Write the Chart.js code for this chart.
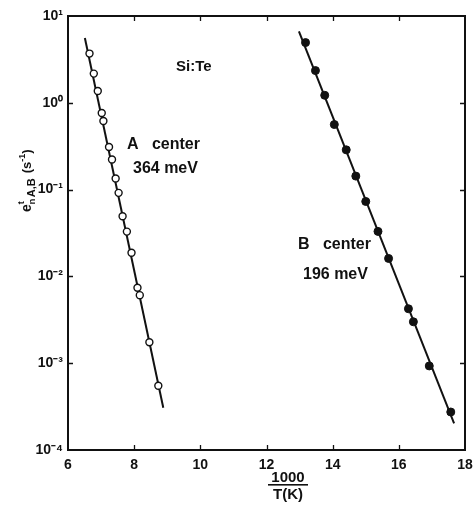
<!DOCTYPE html>
<html>
<head>
<meta charset="utf-8">
<script src="https://cdn.jsdelivr.net/npm/chart.js@4.4.1/dist/chart.umd.min.js"></script>
<style>
  html, body { margin: 0; padding: 0; background: #fff; }
  #box { width: 473px; height: 516px; }
</style>
</head>
<body>
<div id="box"><canvas id="chart"></canvas></div>
<script>
// Si:Te emission rates vs 1000/T, A and B centers
const xA = [6.65, 6.78, 6.90, 7.02, 7.07, 7.24, 7.33, 7.44, 7.53, 7.65, 7.78, 7.92, 8.10, 8.17, 8.46, 8.73];
const rateA = [3.69, 2.17, 1.37, 0.764, 0.618, 0.310, 0.222, 0.134, 0.0917, 0.0494, 0.0328, 0.0187, 0.0074, 0.00608, 0.00174, 0.00055];

const xB = [13.18, 13.48, 13.76, 14.05, 14.41, 14.70, 15.00, 15.37, 15.69, 16.29, 16.44, 16.92, 17.57];
const rateB = [4.94, 2.35, 1.22, 0.562, 0.287, 0.143, 0.073, 0.033, 0.0161, 0.00424, 0.0030, 0.00093, 0.000274];

// fitted Arrhenius lines (end points)
const fitAx = [6.51, 8.88];
const fitAy = [5.58, 0.000307];
const fitBx = [12.98, 17.67];
const fitBy = [6.67, 0.000203];

// axis ticks
const xTicks = [6, 8, 10, 12, 14, 16, 18];
const yExponents = [-4, -3, -2, -1, 0, 1];

const FONT = "'Liberation Sans', Arial, sans-serif";
const INK = '#111';

const sup = { '-': '\u207B', '0': '\u2070', '1': '\u00B9', '2': '\u00B2', '3': '\u00B3', '4': '\u2074' };
const decadeLabel = e => '10' + String(e).split('').map(c => sup[c]).join('');

const pairs = (xs, ys) => xs.map((x, i) => ({ x: x, y: ys[i] }));

// frame, inward ticks, titles and notes
const decorations = {
  id: 'decorations',
  afterDraw(chart) {
    const { ctx, chartArea: a, scales: { x, y } } = chart;
    ctx.save();
    ctx.strokeStyle = INK;
    ctx.lineWidth = 2;
    ctx.strokeRect(a.left, a.top, a.right - a.left, a.bottom - a.top);

    ctx.lineWidth = 1.3;
    ctx.beginPath();
    xTicks.slice(1, -1).forEach(v => {
      const px = Math.round(x.getPixelForValue(v)) + 0.5;
      ctx.moveTo(px, a.bottom); ctx.lineTo(px, a.bottom - 5);
      ctx.moveTo(px, a.top); ctx.lineTo(px, a.top + 5);
    });
    yExponents.slice(1, -1).forEach(e => {
      const py = Math.round(y.getPixelForValue(Math.pow(10, e))) + 0.5;
      ctx.moveTo(a.left, py); ctx.lineTo(a.left + 5, py);
      ctx.moveTo(a.right, py); ctx.lineTo(a.right - 5, py);
    });
    ctx.stroke();

    ctx.fillStyle = INK;

    // x title as a fraction 1000 / T(K)
    const cx = 288;
    ctx.textAlign = 'center';
    ctx.textBaseline = 'alphabetic';
    ctx.font = 'bold 15px ' + FONT;
    ctx.fillText('1000', cx, 482);
    ctx.fillRect(cx - 20, 484, 40, 1.6);
    ctx.fillText('T(K)', cx, 499);

    // y title: e^t_n A,B (s^-1), rotated
    ctx.save();
    ctx.translate(31, 212);
    ctx.rotate(-Math.PI / 2);
    ctx.textAlign = 'left';
    let cur = 0;
    const put = (txt, size, dy) => {
      ctx.font = 'bold ' + size + 'px ' + FONT;
      ctx.fillText(txt, cur, dy);
      return ctx.measureText(txt).width;
    };
    cur += put('e', 14, 0);
    const tw = put('t', 9, -7);
    put('n', 9, 4);
    cur += tw + 4;
    cur += put('A,B', 11, 4) + 5;
    cur += put('(s', 13, 0);
    cur += put('-1', 9, -6);
    put(')', 13, 0);
    ctx.restore();

    // annotations
    ctx.textAlign = 'left';
    ctx.font = 'bold 15px ' + FONT;
    ctx.fillText('Si:Te', 176, 71);
    ctx.font = 'bold 16px ' + FONT;
    ctx.fillText('A   center', 127, 149);
    ctx.fillText('364 meV', 133, 173);
    ctx.fillText('B   center', 298, 249);
    ctx.fillText('196 meV', 303, 279);
    ctx.restore();
  }
};

const chartData = {
  datasets: [
    {
      label: 'A center',
      data: pairs(xA, rateA),
      pointStyle: 'circle',
      pointRadius: 3.5,
      pointBackgroundColor: '#fff',
      pointBorderColor: INK,
      pointBorderWidth: 1.4,
      showLine: false,
      order: 1
    },
    {
      label: 'B center',
      data: pairs(xB, rateB),
      pointStyle: 'circle',
      pointRadius: 4,
      pointBackgroundColor: INK,
      pointBorderColor: INK,
      pointBorderWidth: 1,
      showLine: false,
      order: 1
    },
    {
      label: 'A fit',
      data: pairs(fitAx, fitAy),
      showLine: true,
      borderColor: INK,
      borderWidth: 2,
      pointRadius: 0,
      order: 2
    },
    {
      label: 'B fit',
      data: pairs(fitBx, fitBy),
      showLine: true,
      borderColor: INK,
      borderWidth: 2,
      pointRadius: 0,
      order: 2
    }
  ]
};

const chartOptions = {
  responsive: true,
  maintainAspectRatio: false,
  animation: false,
  layout: { padding: { left: 0, right: 8, top: 16, bottom: 0 } },
  plugins: {
    legend: { display: false },
    tooltip: { enabled: false }
  },
  scales: {
    x: {
      type: 'linear',
      min: 6,
      max: 18,
      afterBuildTicks: scale => { scale.ticks = xTicks.map(v => ({ value: v })); },
      afterFit: scale => {
        scale.height = 66;
        scale.paddingLeft = 0;
        scale.paddingRight = 0;
      },
      grid: { display: false, drawTicks: false },
      border: { display: false },
      ticks: {
        color: INK,
        padding: 7,
        maxRotation: 0,
        font: { family: FONT, size: 14, weight: 'bold' }
      }
    },
    y: {
      type: 'logarithmic',
      min: 1e-4,
      max: 10,
      afterBuildTicks: scale => { scale.ticks = yExponents.map(e => ({ value: Math.pow(10, e) })); },
      afterFit: scale => {
        scale.width = 68;
        scale.paddingTop = 0;
        scale.paddingBottom = 0;
      },
      grid: { display: false, drawTicks: false },
      border: { display: false },
      ticks: {
        color: INK,
        padding: 5,
        font: { family: FONT, size: 14, weight: 'bold' },
        callback: v => decadeLabel(Math.round(Math.log10(v)))
      }
    }
  }
};

new Chart(document.getElementById('chart').getContext('2d'), {
  type: 'scatter',
  data: chartData,
  options: chartOptions,
  plugins: [decorations]
});
</script>
</body>
</html>
